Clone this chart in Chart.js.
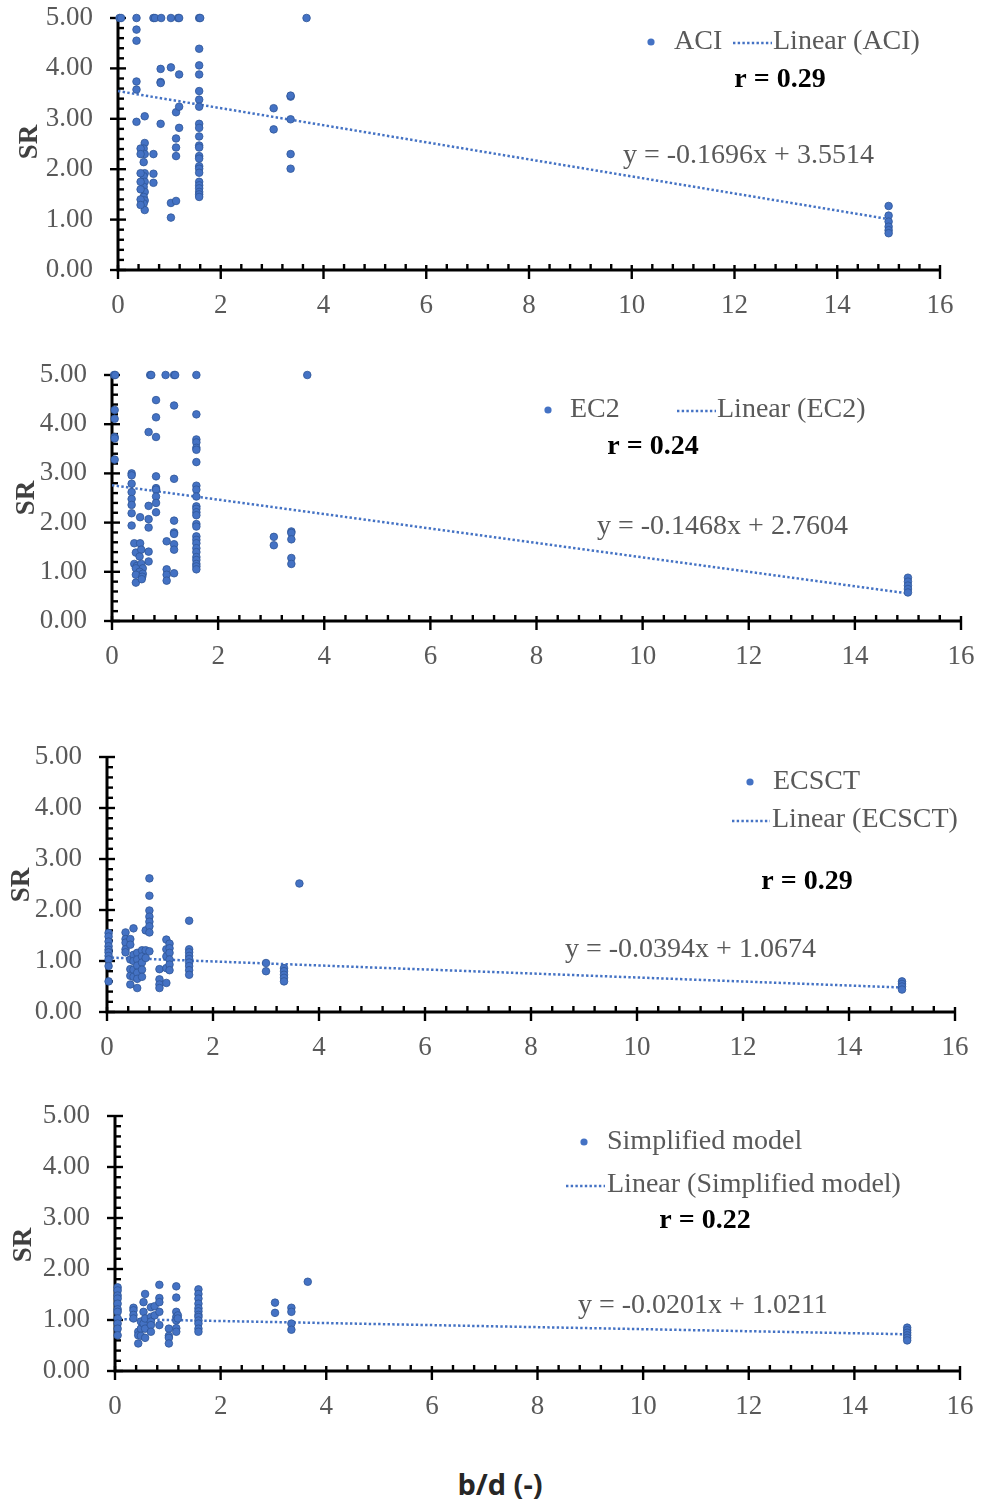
<!DOCTYPE html>
<html>
<head>
<meta charset="utf-8">
<script src="https://cdn.jsdelivr.net/npm/chart.js@4.4.1/dist/chart.umd.min.js"></script>
<style>
  body { margin: 0; background: #fff; width: 985px; height: 1500px; position: relative; overflow: hidden; }
  canvas { position: absolute; left: 0; }
  #xtitle { position: absolute; left: 0; width: 1000px; top: 1464px; text-align: center;
    font: bold 29px 'Open Sans', 'DejaVu Sans', sans-serif; color: #262626; }
</style>
</head>
<body>
<canvas id="c1" width="985" height="340" style="top:0px"></canvas>
<canvas id="c2" width="985" height="345" style="top:345px"></canvas>
<canvas id="c3" width="985" height="370" style="top:700px"></canvas>
<canvas id="c4" width="985" height="370" style="top:1075px"></canvas>
<div id="xtitle">b/d (-)</div>
<script>
// ---- data ----
var trendX = [0, 15];

var aciX = [0.03, 0.06, 0.36, 0.69, 0.72, 0.84, 1.03, 1.17, 1.19, 1.58, 1.60, 3.67,
  0.36, 0.36, 0.36, 0.36, 0.36,
  0.52, 0.52, 0.50, 0.52, 0.50, 0.52, 0.50, 0.52, 0.50, 0.52, 0.50, 0.52, 0.50, 0.52,
  0.44, 0.44, 0.44, 0.44, 0.44, 0.44, 0.44,
  0.69, 0.69, 0.69,
  0.83, 0.83, 0.83, 0.83,
  1.03, 1.03, 1.03,
  1.13, 1.13, 1.13, 1.13, 1.13,
  1.19, 1.19, 1.19,
  1.58, 1.58, 1.58, 1.58, 1.58, 1.58, 1.58, 1.58, 1.58, 1.58, 1.58,
  1.58, 1.58, 1.58, 1.58, 1.58, 1.58, 1.58, 1.58, 1.58, 1.58, 1.58,
  3.03, 3.03,
  3.36, 3.36, 3.36, 3.36, 3.36,
  15, 15, 15, 15, 15, 15];
var aciY = [5, 5, 5, 5, 5, 5, 5, 5, 5, 5, 5, 5,
  4.77, 4.55, 3.74, 3.58, 2.94,
  3.05, 2.52, 2.41, 2.30, 2.14, 1.92, 1.86, 1.75, 1.65, 1.55, 1.45, 1.38, 1.32, 1.19,
  2.41, 2.30, 1.92, 1.75, 1.60, 1.40, 1.29,
  2.30, 1.91, 1.73,
  3.99, 3.73, 3.71, 2.90,
  4.02, 1.33, 1.04,
  3.13, 2.61, 2.43, 2.26, 1.37,
  3.88, 3.24, 2.82,
  4.39, 4.06, 3.88, 3.55, 3.38, 3.24, 2.90, 2.82, 2.65, 2.47, 2.43,
  2.26, 2.21, 2.06, 2.01, 1.93, 1.75, 1.68, 1.62, 1.55, 1.50, 1.45,
  3.21, 2.79,
  3.44, 3.46, 2.99, 2.30, 2.01,
  1.27, 1.08, 0.96, 0.86, 0.79, 0.73];
var aciTrend = [3.55, 1.01];

var ec2X = [0.04, 0.06, 0.72, 0.74, 1.01, 1.17, 1.19, 1.59, 3.68,
  0.05, 0.05, 0.05, 0.05, 0.05,
  0.37, 0.37, 0.37, 0.37, 0.37, 0.37, 0.37, 0.37,
  0.42, 0.53, 0.45, 0.55, 0.52, 0.42, 0.47, 0.55, 0.58, 0.45, 0.52, 0.58, 0.45, 0.57, 0.45, 0.56, 0.53,
  0.69, 0.69, 0.69, 0.69, 0.69, 0.69,
  0.83, 0.83, 0.83, 0.83, 0.83, 0.83, 0.83, 0.83, 0.83,
  1.03, 1.03, 1.03, 1.03,
  1.17, 1.17, 1.17, 1.17, 1.17, 1.17, 1.17, 1.17,
  1.59, 1.59, 1.59, 1.59, 1.59, 1.59, 1.59, 1.59, 1.59, 1.59, 1.59, 1.59, 1.59,
  1.59, 1.59, 1.59, 1.59, 1.59, 1.59, 1.59, 1.59, 1.59, 1.59, 1.59, 1.59,
  3.05, 3.05,
  3.38, 3.38, 3.38, 3.38, 3.38,
  15, 15, 15, 15, 15];
var ec2Y = [5, 5, 5, 5, 5, 5, 5, 5, 5,
  4.29, 4.11, 3.74, 3.71, 3.28,
  3.00, 2.96, 2.79, 2.62, 2.48, 2.36, 2.19, 1.94,
  1.58, 1.58, 1.39, 1.45, 1.31, 1.16, 1.12, 1.16, 1.07, 1.07, 1.00, 0.96, 0.94, 0.90, 0.78, 0.85, 2.11,
  3.84, 2.34, 2.07, 1.90, 1.41, 1.21,
  4.49, 4.14, 3.74, 2.94, 2.70, 2.67, 2.53, 2.40, 2.21,
  1.62, 1.05, 0.94, 0.82,
  4.38, 2.89, 2.04, 1.80, 1.77, 1.56, 1.45, 0.97,
  4.20, 3.69, 3.63, 3.52, 3.48, 3.23, 2.75, 2.67, 2.53, 2.33, 2.28, 2.21, 2.15,
  1.97, 1.92, 1.72, 1.65, 1.58, 1.48, 1.40, 1.30, 1.24, 1.16, 1.11, 1.05,
  1.71, 1.54,
  1.82, 1.79, 1.66, 1.28, 1.16,
  0.88, 0.80, 0.72, 0.65, 0.58];
var ec2Trend = [2.76, 0.56];

var ecsctX = [0.03, 0.03, 0.03, 0.03, 0.03, 0.03, 0.03, 0.03, 0.03, 0.03,
  0.35, 0.35, 0.35, 0.35, 0.35,
  0.44, 0.44, 0.44, 0.44, 0.44, 0.44,
  0.50, 0.50, 0.50, 0.50, 0.50,
  0.57, 0.57, 0.57, 0.57, 0.57, 0.57,
  0.66, 0.66, 0.66, 0.66, 0.66,
  0.73, 0.73, 0.73,
  0.80, 0.80, 0.80, 0.80, 0.80, 0.80, 0.80, 0.80,
  0.99, 0.99, 0.99, 0.99,
  1.12, 1.12, 1.12, 1.12, 1.12,
  1.18, 1.18, 1.18, 1.18, 1.18, 1.18,
  1.55, 1.55, 1.55, 1.55, 1.55, 1.55, 1.55, 1.55, 1.55,
  3.00, 3.00,
  3.34, 3.34, 3.34, 3.34, 3.34,
  3.63,
  15, 15, 15, 15];
var ecsctY = [1.55, 1.48, 1.38, 1.29, 1.22, 1.17, 1.10, 1.03, 0.90, 0.60,
  1.56, 1.43, 1.36, 1.23, 1.17,
  1.43, 1.32, 1.03, 0.84, 0.71, 0.54,
  1.64, 1.12, 1.00, 0.83, 0.69,
  1.16, 1.03, 0.91, 0.77, 0.65, 0.47,
  1.21, 1.09, 0.97, 0.83, 0.69,
  1.60, 1.21, 1.06,
  2.62, 2.28, 1.99, 1.87, 1.77, 1.68, 1.56, 1.19,
  0.84, 0.64, 0.54, 0.47,
  1.42, 1.23, 1.09, 0.86, 0.57,
  1.34, 1.25, 1.16, 1.03, 0.93, 0.82,
  1.79, 1.23, 1.17, 1.10, 1.04, 0.97, 0.90, 0.82, 0.73,
  0.96, 0.80,
  0.86, 0.80, 0.73, 0.67, 0.60,
  2.52,
  0.60, 0.55, 0.50, 0.44];
var ecsctTrend = [1.07, 0.48];

var simpX = [0.05, 0.05, 0.05, 0.05, 0.05, 0.05, 0.05, 0.05, 0.05, 0.05, 0.05,
  0.35, 0.35, 0.35, 0.35,
  0.44, 0.44, 0.44,
  0.49, 0.49, 0.49,
  0.54, 0.54, 0.54,
  0.57, 0.57, 0.57, 0.57,
  0.68, 0.68, 0.68, 0.68, 0.68,
  0.75, 0.75,
  0.84, 0.84, 0.84, 0.84, 0.84,
  1.02, 1.02, 1.02, 1.02,
  1.16, 1.16, 1.16, 1.16, 1.16, 1.16, 1.16,
  1.19, 1.19,
  1.58, 1.58, 1.58, 1.58, 1.58, 1.58, 1.58, 1.58, 1.58, 1.58, 1.58, 1.58,
  3.03, 3.03,
  3.34, 3.34, 3.34, 3.34,
  3.65,
  15, 15, 15, 15, 15, 15];
var simpY = [1.64, 1.58, 1.48, 1.42, 1.32, 1.21, 1.16, 1.03, 0.93, 0.83, 0.70,
  1.24, 1.19, 1.10, 1.03,
  0.77, 0.70, 0.54,
  0.97, 0.83, 0.69,
  1.35, 1.16, 0.93,
  1.51, 1.03, 0.83, 0.65,
  1.25, 1.06, 0.97, 0.90, 0.77,
  1.27, 1.09,
  1.69, 1.43, 1.35, 1.16, 0.90,
  0.83, 0.69, 0.65, 0.54,
  1.66, 1.44, 1.16, 1.06, 0.99, 0.84, 0.77,
  1.09, 1.03,
  1.60, 1.51, 1.42, 1.32, 1.23, 1.17, 1.10, 1.06, 0.99, 0.93, 0.83, 0.77,
  1.34, 1.14,
  1.24, 1.16, 0.93, 0.81,
  1.75,
  0.85, 0.80, 0.75, 0.70, 0.65, 0.60];
var simpTrend = [1.02, 0.72];

// ---- styling ----
var BLUE = '#4472C4';
var SERIF = "'Liberation Serif', 'Times New Roman', serif";
var GREY = '#595959';

function zip(xs, ys) {
  return xs.map(function (x, i) { return { x: x, y: ys[i] }; });
}

function dottedLine(ctx, x1, y1, x2, y2) {
  ctx.save();
  ctx.strokeStyle = BLUE;
  ctx.lineWidth = 2.5;
  ctx.setLineDash([2.4, 2.3]);
  ctx.beginPath();
  ctx.moveTo(x1, y1);
  ctx.lineTo(x2, y2);
  ctx.stroke();
  ctx.restore();
}

// axes with crossing major ticks and inner minor ticks, plus legend / notes
var deco = {
  id: 'deco',
  beforeDatasetsDraw: function (chart) {
    var ctx = chart.ctx, xs = chart.scales.x, ys = chart.scales.y;
    var a = chart.chartArea;
    ctx.save();
    ctx.strokeStyle = '#000';
    ctx.lineWidth = 3;
    ctx.beginPath();
    ctx.moveTo(a.left, a.top);
    ctx.lineTo(a.left, a.bottom);
    ctx.lineTo(a.right, a.bottom);
    ctx.stroke();
    ctx.lineWidth = 2.4;
    var i, p;
    for (i = 0; i <= 25; i++) {
      p = ys.getPixelForValue(i * 0.2);
      ctx.beginPath();
      if (i % 5 === 0) { ctx.moveTo(a.left - 8, p); ctx.lineTo(a.left + 8, p); }
      else { ctx.moveTo(a.left, p); ctx.lineTo(a.left + 6, p); }
      ctx.stroke();
    }
    for (i = 0; i <= 40; i++) {
      p = xs.getPixelForValue(i * 0.4);
      ctx.beginPath();
      if (i % 5 === 0) { ctx.moveTo(p, a.bottom - 5); ctx.lineTo(p, a.bottom + 9); }
      else { ctx.moveTo(p, a.bottom); ctx.lineTo(p, a.bottom - 6); }
      ctx.stroke();
    }
    ctx.restore();
  },
  afterDraw: function (chart) {
    var o = chart.options.plugins.deco;
    var ctx = chart.ctx, t = o.top;
    ctx.save();
    // SR axis title
    ctx.translate(o.sr[0], o.sr[1] - t);
    ctx.rotate(-Math.PI / 2);
    ctx.font = 'bold 27px ' + SERIF;
    ctx.fillStyle = '#404040';
    ctx.textAlign = 'center';
    ctx.textBaseline = 'middle';
    ctx.fillText('SR', 0, 0);
    ctx.restore();

    ctx.save();
    ctx.textBaseline = 'middle';
    ctx.textAlign = 'left';
    ctx.font = '28px ' + SERIF;
    ctx.fillStyle = GREY;
    // legend: marker + series name
    ctx.beginPath();
    ctx.arc(o.dot[0], o.dot[1] - t, 3.6, 0, Math.PI * 2);
    ctx.fillStyle = BLUE;
    ctx.fill();
    ctx.fillStyle = GREY;
    ctx.fillText(o.name, o.nameAt[0], o.nameAt[1] - t);
    // legend: trend line + label
    dottedLine(ctx, o.line[0], o.line[2] - t, o.line[1], o.line[2] - t);
    ctx.fillText('Linear (' + o.name + ')', o.linAt[0], o.linAt[1] - t);
    // equation
    ctx.fillText(o.eq, o.eqAt[0], o.eqAt[1] - t);
    // r value
    ctx.font = 'bold 28px ' + SERIF;
    ctx.fillStyle = '#000';
    ctx.textAlign = 'center';
    ctx.fillText(o.r, o.rAt[0], o.rAt[1] - t);
    ctx.restore();
  }
};

function makePanel(id, cfg) {
  var canvas = document.getElementById(id);
  var H = canvas.height;
  return new Chart(canvas, {
    type: 'scatter',
    data: {
      datasets: [{
        label: cfg.deco.name,
        data: zip(cfg.xs, cfg.ys),
        pointRadius: 3.8,
        pointBackgroundColor: BLUE,
        pointBorderColor: '#2F5597',
        pointBorderWidth: 0.8,
        clip: false
      }, {
        label: 'Linear (' + cfg.deco.name + ')',
        data: zip(trendX, cfg.trend),
        showLine: true,
        pointRadius: 0,
        borderColor: BLUE,
        borderWidth: 2.5,
        borderDash: [2.4, 2.3],
        clip: false
      }]
    },
    options: {
      responsive: false,
      animation: false,
      events: [],
      layout: { padding: { left: 0, top: cfg.box.top - cfg.deco.top, right: 985 - cfg.box.right, bottom: 0 } },
      plugins: { legend: { display: false }, tooltip: { enabled: false }, deco: cfg.deco },
      scales: {
        x: {
          type: 'linear', min: 0, max: 16,
          grid: { display: false },
          border: { display: false },
          ticks: { stepSize: 2, padding: 12, color: GREY, font: { family: SERIF, size: 27 } },
          afterFit: function (s) {
            s.height = H - (cfg.box.bottom - cfg.deco.top);
            s.paddingLeft = 0; s.paddingRight = 0;
          }
        },
        y: {
          type: 'linear', min: 0, max: 5,
          grid: { display: false },
          border: { display: false },
          ticks: { stepSize: 1, padding: 17, color: GREY, font: { family: SERIF, size: 27 },
            callback: function (v) { return v.toFixed(2); } },
          afterFit: function (s) {
            s.width = cfg.box.left;
            s.paddingTop = 0; s.paddingBottom = 0;
          }
        }
      }
    },
    plugins: [deco]
  });
}

makePanel('c1', {
  xs: aciX, ys: aciY, trend: aciTrend,
  box: { left: 118, right: 940, top: 18, bottom: 270 },
  deco: { top: 0, name: 'ACI', sr: [30, 142], dot: [651, 42], nameAt: [674, 42],
    line: [733, 772, 43], linAt: [773, 42], eq: 'y = -0.1696x + 3.5514', eqAt: [623, 156],
    r: 'r = 0.29', rAt: [780, 80] }
});
makePanel('c2', {
  xs: ec2X, ys: ec2Y, trend: ec2Trend,
  box: { left: 112, right: 961, top: 375, bottom: 621 },
  deco: { top: 345, name: 'EC2', sr: [27, 498], dot: [548, 410], nameAt: [570, 410],
    line: [677, 716, 411], linAt: [717, 410], eq: 'y = -0.1468x + 2.7604', eqAt: [597, 527],
    r: 'r = 0.24', rAt: [653, 447] }
});
makePanel('c3', {
  xs: ecsctX, ys: ecsctY, trend: ecsctTrend,
  box: { left: 107, right: 955, top: 757, bottom: 1012 },
  deco: { top: 700, name: 'ECSCT', sr: [22, 885], dot: [750, 782], nameAt: [773, 782],
    line: [732, 770, 821], linAt: [772, 820], eq: 'y = -0.0394x + 1.0674', eqAt: [565, 950],
    r: 'r = 0.29', rAt: [807, 882] }
});
makePanel('c4', {
  xs: simpX, ys: simpY, trend: simpTrend,
  box: { left: 115, right: 960, top: 1116, bottom: 1371 },
  deco: { top: 1075, name: 'Simplified model', sr: [24, 1245], dot: [584, 1142], nameAt: [607, 1142],
    line: [566, 605, 1186], linAt: [607, 1185], eq: 'y = -0.0201x + 1.0211', eqAt: [578, 1306],
    r: 'r = 0.22', rAt: [705, 1221] }
});
</script>
</body>
</html>
